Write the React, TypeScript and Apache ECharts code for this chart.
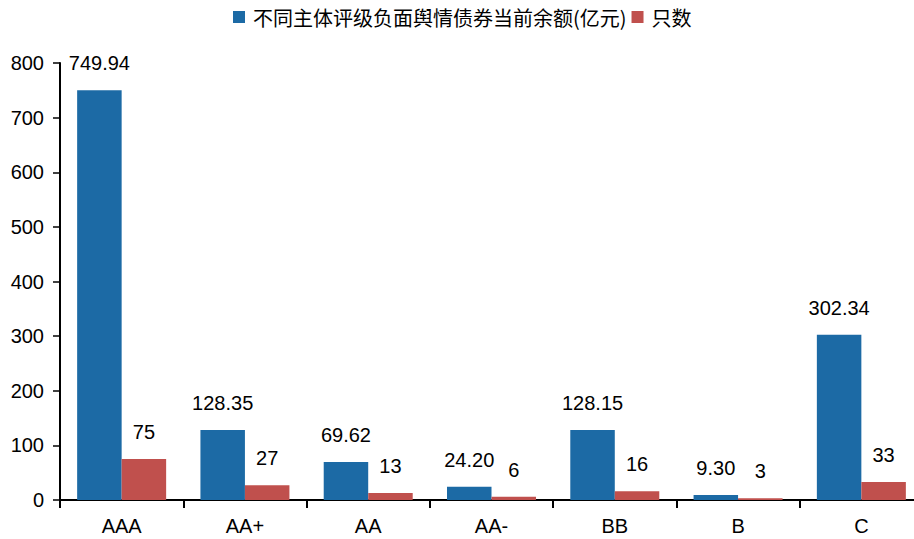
import React, { useEffect, useRef } from "react";
import * as echarts from "echarts";

const categories = ["AAA", "AA+", "AA", "AA-", "BB", "B", "C"];
const amountValues = [749.94, 128.35, 69.62, 24.2, 128.15, 9.3, 302.34];
const countValues = [75, 27, 13, 6, 16, 3, 33];
const seriesNames = ["不同主体评级负面舆情债券当前余额(亿元)", "只数"];

export default function App() {
  const ref = useRef<HTMLDivElement>(null);
  useEffect(() => {
    const chart = echarts.init(ref.current!, null, { renderer: "svg" });
    const font = "Liberation Sans, Arial, Helvetica, sans-serif";
    const labelStyle = {
      show: true,
      position: "top",
      distance: 17,
      fontSize: 20,
      color: "#000",
      fontFamily: font,
    };
    chart.setOption({
      animation: false,
      legend: {
        top: 2,
        left: 228,
        itemWidth: 12,
        itemHeight: 12,
        itemGap: 5,
        icon: "rect",
        textStyle: {
          fontSize: 20,
          color: "#000",
          fontFamily: "Noto Sans CJK SC, sans-serif",
          padding: [0, 0, 0, 3],
        },
        data: seriesNames,
      },
      grid: {
        left: 60,
        width: 863,
        top: 63,
        bottom: 39,
        containLabel: false,
        outerBoundsMode: "none",
      },
      xAxis: {
        type: "category",
        data: categories,
        axisLine: { lineStyle: { color: "#000", width: 2 } },
        axisTick: { show: true, length: 8, lineStyle: { color: "#000", width: 2 } },
        axisLabel: {
          fontSize: 20,
          color: "#000",
          margin: 16,
          fontFamily: font,
        },
      },
      yAxis: {
        type: "value",
        min: 0,
        max: 800,
        interval: 100,
        splitLine: { show: false },
        axisLine: { show: true, lineStyle: { color: "#000", width: 2 } },
        axisTick: { show: true, length: 7, lineStyle: { color: "#000", width: 1.5 } },
        axisLabel: {
          fontSize: 20,
          color: "#000",
          margin: 16,
          fontFamily: font,
        },
      },
      series: [
        {
          name: seriesNames[0],
          type: "bar",
          data: amountValues,
          barWidth: 44.5,
          barGap: "0%",
          itemStyle: { color: "#1c6aa5" },
          label: {
            ...labelStyle,
            formatter: (p: any) => p.value.toFixed(2),
          },
        },
        {
          name: seriesNames[1],
          type: "bar",
          data: countValues,
          barWidth: 44.5,
          itemStyle: { color: "#c0504d" },
          label: { ...labelStyle },
        },
      ],
    });
    return () => chart.dispose();
  }, []);
  return <div ref={ref} style={{ width: 914, height: 539, position: "absolute", left: 0, top: 0 }} />;
}
